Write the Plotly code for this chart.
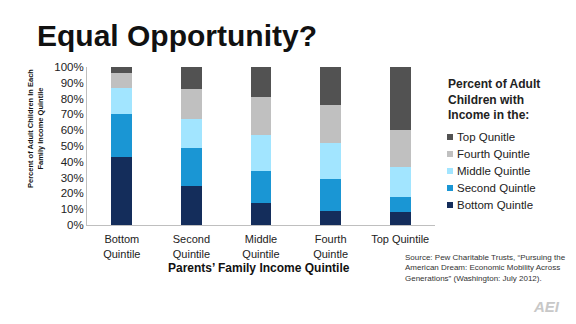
import plotly.graph_objects as go

categories = ["Bottom<br>Quintile", "Second<br>Quintile", "Middle<br>Quintile", "Fourth<br>Quintle", "Top Quintile"]
bottom_q = [43, 25, 14, 9, 8]
second_q = [27, 24, 20, 20, 10]
middle_q = [17, 18, 23, 23, 19]
fourth_q = [9, 19, 24, 24, 23]
top_q = [4, 14, 19, 24, 40]

series_names = ["Bottom Quintle", "Second Quintle", "Middle Quintle", "Fourth Quintle", "Top Qunitle"]
series_values = [bottom_q, second_q, middle_q, fourth_q, top_q]
series_colors = ["#142d5b", "#1a96d4", "#a2e5ff", "#c0c0c0", "#525252"]

W, H = 576, 324
L, R, T, B = 87, 141, 67, 99
PW, PH = W - L - R, H - T - B

def px(x):
    return (x - L) / PW

def py(y):
    return (H - B - y) / PH

fig = go.Figure()
for name, vals, col in zip(series_names, series_values, series_colors):
    fig.add_trace(go.Bar(x=categories, y=[v / 100 for v in vals], name=name,
                         marker=dict(color=col, line=dict(width=0)), showlegend=False))

fig.update_layout(
    width=W, height=H,
    margin=dict(l=L, r=R, t=T, b=B),
    barmode="stack", bargap=0.7,
    plot_bgcolor="white", paper_bgcolor="white",
    font=dict(family="Liberation Sans, Arial", color="#222222"),
    title=dict(text="<b>Equal Opportunity?</b>", x=37 / W, xanchor="left",
               y=1 - 35 / H, yanchor="middle", font=dict(size=30, color="#111111")),
    xaxis=dict(showline=True, linecolor="#bfbfbf", linewidth=1, ticks="",
               tickfont=dict(size=11), showgrid=False, ticklabelstandoff=4),
    yaxis=dict(range=[0, 1], tickformat=".0%", dtick=0.1, showline=True,
               linecolor="#bfbfbf", linewidth=1, ticks="", showgrid=False,
               zeroline=False, tickfont=dict(size=11.5)),
)

# axis titles
fig.add_annotation(text="<b>Parents’ Family Income Quintile</b>", xref="paper", yref="paper",
                   x=px(259), y=py(268), xanchor="center", yanchor="middle",
                   showarrow=False, font=dict(size=12, color="#111111"))
fig.add_annotation(text="<b>Percent of Adult Children In Each<br>Family Income Quintile</b>",
                   xref="paper", yref="paper", x=px(35), y=py(128), xanchor="center",
                   yanchor="middle", textangle=-90,
                   showarrow=False, font=dict(size=7.5, color="#111111"))

# legend title and entries
fig.add_annotation(text="<b>Percent of Adult<br>Children with<br>Income in the:</b>",
                   xref="paper", yref="paper", x=px(446), y=py(99), xanchor="left",
                   yanchor="middle", align="left", showarrow=False,
                   font=dict(size=12, color="#222222"))
legend_y = [137, 154, 171, 188, 205]
for i, (name, col) in enumerate(zip(series_names[::-1], series_colors[::-1])):
    yc = legend_y[i]
    fig.add_shape(type="rect", xref="paper", yref="paper",
                  x0=px(447), x1=px(453), y0=py(yc + 3), y1=py(yc - 3),
                  fillcolor=col, line=dict(width=0))
    fig.add_annotation(text=name, xref="paper", yref="paper", x=px(455), y=py(yc),
                       xanchor="left", yanchor="middle", showarrow=False,
                       font=dict(size=11.5, color="#222222"))

# source
fig.add_annotation(text="Source: Pew Charitable Trusts, “Pursuing the<br>American Dream: Economic Mobility Across<br>Generations” (Washington: July 2012).",
                   xref="paper", yref="paper", x=px(403), y=py(268), xanchor="left",
                   yanchor="middle", align="left", showarrow=False,
                   font=dict(size=8, color="#333333"))
fig.add_annotation(text="<b><i>AEI</i></b>", xref="paper", yref="paper", x=px(546), y=py(306),
                   xanchor="center", yanchor="middle",
                   showarrow=False, font=dict(size=15, color="#c8c8c8"))

fig.write_html("out.html")
